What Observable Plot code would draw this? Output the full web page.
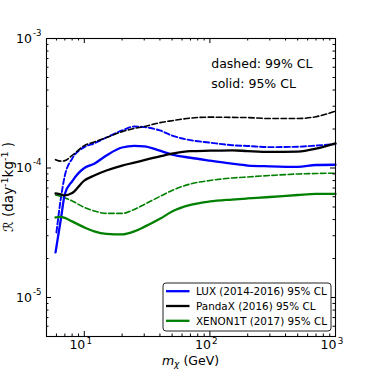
<!DOCTYPE html>
<html><head><meta charset="utf-8">
<script src="https://cdn.jsdelivr.net/npm/d3@7"></script>
<script src="https://cdn.jsdelivr.net/npm/@observablehq/plot@0.6"></script>
<style>
html,body{margin:0;padding:0;background:#fff;}
#wrap{position:relative;width:374px;height:374px;}
</style></head><body><div id="wrap"></div>
<script>
// ---- data ----
const masses = [5.9, 6.5, 7, 8, 10, 12, 15, 20, 25, 30, 40, 50, 70, 100, 150, 200, 300, 500, 700, 1000];
const luxDashedMasses = [6, 6.5, 7, 8, 10, 12, 15, 20, 25, 30, 40, 50, 70, 100, 150, 200, 300, 500, 700, 1000];

const luxSolid = [2.23e-5, 4.0e-5, 6.3e-5, 7.9e-5, 1.0e-4, 1.08e-4, 1.25e-4, 1.44e-4, 1.48e-4, 1.47e-4, 1.36e-4, 1.27e-4, 1.20e-4, 1.14e-4, 1.08e-4, 1.045e-4, 1.03e-4, 1.02e-4, 1.055e-4, 1.06e-4];
const luxDashed = [3.18e-5, 5.8e-5, 8.75e-5, 1.18e-4, 1.45e-4, 1.55e-4, 1.72e-4, 1.95e-4, 2.09e-4, 2.07e-4, 1.95e-4, 1.78e-4, 1.64e-4, 1.57e-4, 1.50e-4, 1.48e-4, 1.45e-4, 1.46e-4, 1.49e-4, 1.53e-4];
const pandaxSolid = [6.36e-5, 6.25e-5, 6.14e-5, 6.4e-5, 8.0e-5, 8.75e-5, 9.56e-5, 1.045e-4, 1.10e-4, 1.15e-4, 1.23e-4, 1.29e-4, 1.35e-4, 1.36e-4, 1.37e-4, 1.35e-4, 1.33e-4, 1.34e-4, 1.41e-4, 1.55e-4];
const pandaxDashed = [1.16e-4, 1.13e-4, 1.14e-4, 1.25e-4, 1.49e-4, 1.59e-4, 1.72e-4, 1.91e-4, 2.02e-4, 2.09e-4, 2.24e-4, 2.32e-4, 2.43e-4, 2.47e-4, 2.46e-4, 2.45e-4, 2.41e-4, 2.41e-4, 2.49e-4, 2.75e-4];
const xenonSolid = [4.15e-5, 4.2e-5, 4.12e-5, 3.87e-5, 3.48e-5, 3.24e-5, 3.10e-5, 3.07e-5, 3.24e-5, 3.51e-5, 4.05e-5, 4.62e-5, 5.19e-5, 5.52e-5, 5.71e-5, 5.82e-5, 5.97e-5, 6.19e-5, 6.31e-5, 6.31e-5];
const xenonDashed = [6.19e-5, 6.03e-5, 5.87e-5, 5.57e-5, 4.96e-5, 4.66e-5, 4.46e-5, 4.46e-5, 4.79e-5, 5.23e-5, 6.03e-5, 6.71e-5, 7.53e-5, 8.01e-5, 8.37e-5, 8.53e-5, 8.75e-5, 8.99e-5, 9.07e-5, 9.12e-5];

const legendLabels = ["LUX (2014-2016) 95% CL", "PandaX (2016) 95% CL", "XENON1T (2017) 95% CL"];
const seriesColors = ["#0000ff", "#000000", "#008000"];
const notes = ["dashed: 99% CL", "solid: 95% CL"];

const xMajor = [10, 100, 1000];
const xExp = ["1", "2", "3"];
const xMinor = [5, 6, 7, 8, 9, 20, 30, 40, 50, 60, 70, 80, 90, 200, 300, 400, 500, 600, 700, 800, 900];
const yMajor = [1e-3, 1e-4, 1e-5];
const yExp = ["-3", "-4", "-5"];
const yMinor = [6e-6, 7e-6, 8e-6, 9e-6, 2e-5, 3e-5, 4e-5, 5e-5, 6e-5, 7e-5, 8e-5, 9e-5, 2e-4, 3e-4, 4e-4, 5e-4, 6e-4, 7e-4, 8e-4, 9e-4];

// ---- build table ----
const W = 374, H = 374, mL = 46, mT = 38, mR = 39, mB = 38;
const innerW = W - mL - mR, innerH = H - mT - mB;
const seriesDefs = [
  {ms: luxDashedMasses, vals: luxDashed, color: seriesColors[0], dashed: true, w: 1.9},
  {ms: masses, vals: pandaxDashed, color: seriesColors[1], dashed: true, w: 1.6},
  {ms: masses, vals: xenonDashed, color: seriesColors[2], dashed: true, w: 1.6},
  {ms: masses, vals: luxSolid, color: seriesColors[0], dashed: false, w: 2.3},
  {ms: masses, vals: pandaxSolid, color: seriesColors[1], dashed: false, w: 2.3},
  {ms: masses, vals: xenonSolid, color: seriesColors[2], dashed: false, w: 2.3}
];
const lineMarks = seriesDefs.map(s => Plot.line(s.ms.map((m, i) => ({m, r: s.vals[i]})), {
  x: "m", y: "r", stroke: s.color, strokeWidth: s.w,
  strokeDasharray: s.dashed ? "5.5,2.6" : null, curve: "monotone-x"
}));

const chart = Plot.plot({
  width: W, height: H, marginLeft: mL, marginTop: mT, marginRight: mR, marginBottom: mB,
  x: {type: "log", domain: [5, 1000], axis: null},
  y: {type: "log", domain: [5e-6, 1e-3], axis: null},
  style: {fontFamily: "DejaVu Sans", background: "white", overflow: "visible"},
  marks: [
    ...lineMarks,
    Plot.frame({stroke: "black", strokeWidth: 1.1}),
    Plot.tickX(xMinor, {x: d => d, insetTop: innerH - 2.5, stroke: "black"}),
    Plot.tickX(xMinor, {x: d => d, insetBottom: innerH - 2.5, stroke: "black"}),
    Plot.tickX(xMajor, {x: d => d, insetTop: innerH - 5, stroke: "black"}),
    Plot.tickX(xMajor, {x: d => d, insetBottom: innerH - 5, stroke: "black"}),
    Plot.tickY(yMinor, {y: d => d, insetRight: innerW - 2.5, stroke: "black"}),
    Plot.tickY(yMinor, {y: d => d, insetLeft: innerW - 2.5, stroke: "black"}),
    Plot.tickY(yMajor, {y: d => d, insetRight: innerW - 5, stroke: "black"}),
    Plot.tickY(yMajor, {y: d => d, insetLeft: innerW - 5, stroke: "black"}),
    Plot.text(xMajor, {x: d => d, frameAnchor: "bottom", text: () => "10", textAnchor: "end", dx: 1, dy: 12, fontSize: 12.5, fill: "black"}),
    Plot.text(xMajor, {x: d => d, frameAnchor: "bottom", text: (d, i) => xExp[i], textAnchor: "start", dx: 2.2, dy: 7.6, fontSize: 8.8, fill: "black"}),
    Plot.text(yMajor, {y: d => d, frameAnchor: "left", text: () => "10", textAnchor: "end", dx: -14.6, fontSize: 12.5, fill: "black"}),
    Plot.text(yMajor, {y: d => d, frameAnchor: "left", text: (d, i) => yExp[i], textAnchor: "start", dx: -13.6, dy: -5.4, fontSize: 8.6, fill: "black"}),
    Plot.text([notes[0]], {frameAnchor: "top-left", text: d => d, textAnchor: "start", dx: 164.7, dy: 21, fontSize: 12.5, fill: "black"}),
    Plot.text([notes[1]], {frameAnchor: "top-left", text: d => d, textAnchor: "start", dx: 164.7, dy: 40.7, fontSize: 12.5, fill: "black"})
  ]
});
document.getElementById("wrap").appendChild(chart);

// ---- axis labels and legend ----
const svg = d3.select(chart);
const xl = svg.append("text").attr("x", 190.5).attr("y", 364.5).attr("text-anchor", "middle")
  .attr("font-size", 12.5).attr("font-family", "DejaVu Sans").attr("fill", "black");
xl.append("tspan").attr("font-style", "italic").text("m");
xl.append("tspan").attr("font-style", "italic").attr("font-size", 9).attr("dy", 2.5).text("\u03c7");
xl.append("tspan").attr("dy", -2.5).text(" (GeV)");

const yl = svg.append("text").attr("transform", "translate(13,187) rotate(-90)").attr("text-anchor", "middle")
  .attr("font-size", 13.5).attr("font-family", "DejaVu Sans").attr("fill", "black");
yl.append("tspan").attr("font-style", "italic").text("\u211b");
yl.append("tspan").text(" (day");
yl.append("tspan").attr("font-size", 9.5).attr("dy", -5.5).text("-1");
yl.append("tspan").attr("dy", 5.5).text("kg");
yl.append("tspan").attr("font-size", 9.5).attr("dy", -5.5).text("-1");
yl.append("tspan").attr("dy", 5.5).text(" )");

const lg = svg.append("g");
lg.append("rect").attr("x", 163).attr("y", 283).attr("width", 168).attr("height", 48)
  .attr("rx", 3).attr("fill", "white").attr("stroke", "#222").attr("stroke-width", 1);
const rowY = [291.2, 306, 320.8];
legendLabels.forEach((lab, i) => {
  lg.append("line").attr("x1", 166).attr("x2", 189.5).attr("y1", rowY[i]).attr("y2", rowY[i])
    .attr("stroke", seriesColors[i]).attr("stroke-width", 2.3);
  lg.append("text").attr("x", 196).attr("y", rowY[i] + 3.7).attr("font-size", 10.4)
    .attr("text-anchor", "start")
    .attr("font-family", "DejaVu Sans").attr("fill", "black").text(lab);
});
</script>
</body></html>
